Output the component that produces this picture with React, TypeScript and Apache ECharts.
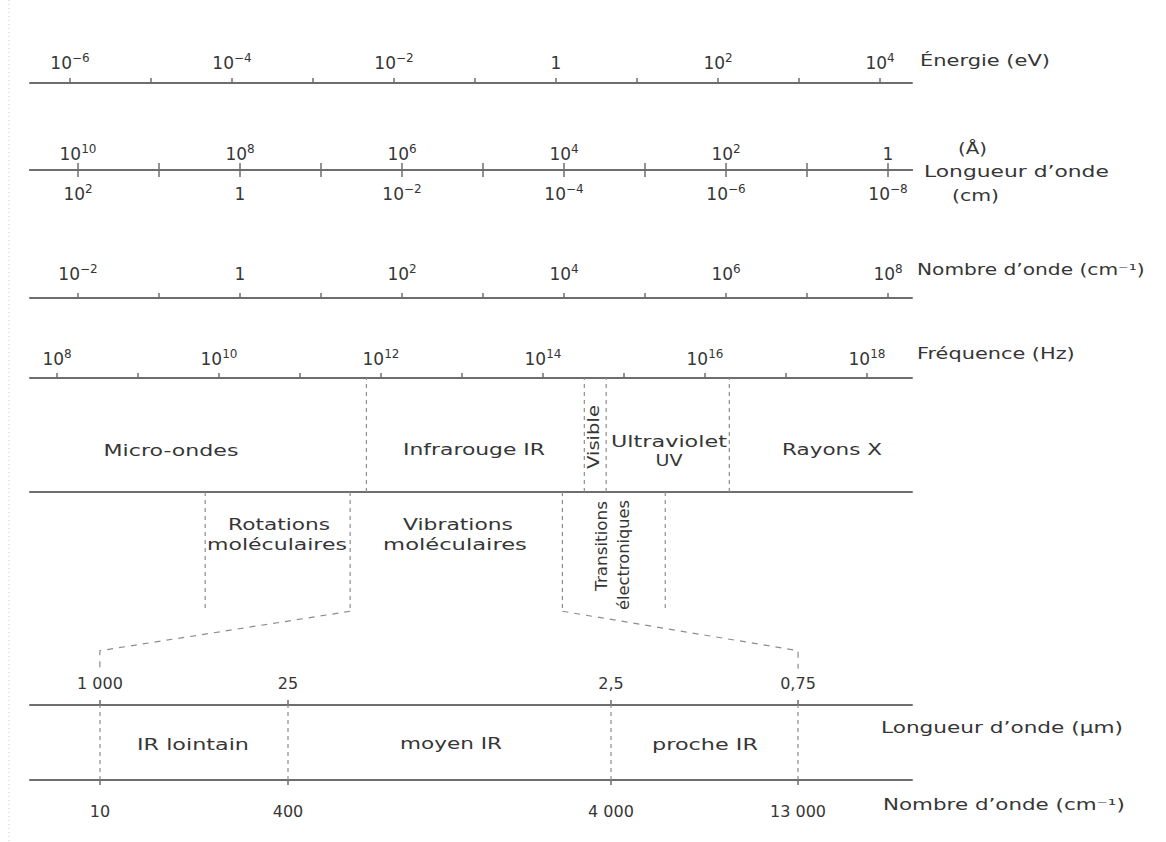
import React, { useEffect, useRef } from 'react';
import * as echarts from 'echarts';

const FONT = 'DejaVu Sans';
const TEXT = '#363636';
const AXIS = '#6e6e6e';
const DASH = '#8c8c8c';

// Log scales: values are decimal exponents (log10)
const energyTicks = [-6, -5, -4, -3, -2, -1, 0, 1, 2, 3, 4]; // eV
const energyLabels = [-6, -4, -2, 0, 2, 4];
const angstromTicks = [10, 9, 8, 7, 6, 5, 4, 3, 2, 1, 0]; // Å
const angstromLabels = [10, 8, 6, 4, 2, 0];
const centimetreTicks = [2, 1, 0, -1, -2, -3, -4, -5, -6, -7, -8]; // cm
const centimetreLabels = [2, 0, -2, -4, -6, -8];
const wavenumberTicks = [-2, -1, 0, 1, 2, 3, 4, 5, 6, 7, 8]; // cm-1
const wavenumberLabels = [-2, 0, 2, 4, 6, 8];
const frequencyTicks = [8, 9, 10, 11, 12, 13, 14, 15, 16, 17, 18]; // Hz
const frequencyLabels = [8, 10, 12, 14, 16, 18];

// Spectral domains (boundaries in log10 Hz)
const domainNames = ['Micro-ondes', 'Infrarouge IR', 'Visible', 'Ultraviolet\nUV', 'Rayons X'];
const domainBounds = [11.82, 14.51, 14.78, 16.3];

// Molecular transitions (boundaries in log10 cm-1)
const transitionNames = ['Rotations\nmoléculaires', 'Vibrations\nmoléculaires', 'Transitions\nélectroniques'];
const transitionBounds = [-0.43, 1.36, 3.98, 5.25];
// where the IR zoom projects onto the wavenumber scale (log10 cm-1)
const zoomProjection = [-1.73, 6.89];

// Infrared zoom (schematic, non-linear scale)
const irBandNames = ['IR lointain', 'moyen IR', 'proche IR'];
const irStops = [0.7, 2.58, 5.81, 7.68];
const irWavelengthLabels = ['1 000', '25', '2,5', '0,75']; // µm
const irWavenumberLabels = ['10', '400', '4 000', '13 000']; // cm-1

const rich = {
  b: { fontSize: 17, fontFamily: FONT, color: TEXT, lineHeight: 20, verticalAlign: 'bottom' },
  s: { fontSize: 12, fontFamily: FONT, color: TEXT, lineHeight: 20, verticalAlign: 'bottom', padding: [0, 0, 7, 0] },
};

const pow10 = (v: number) => {
  const r = Math.round(v);
  if (r === 0) return '{b|1}';
  return `{b|10}{s|${r < 0 ? '\u2212' + -r : r}}`;
};

const grid = (top: number, height: number) => ({
  left: 30,
  right: 254,
  top,
  height,
  containLabel: false,
  outerBoundsMode: 'none',
});

function scaleAxis(o: any) {
  return {
    type: 'value',
    gridIndex: o.grid,
    min: o.min,
    max: o.max,
    inverse: !!o.inverse,
    position: o.position || 'bottom',
    silent: true,
    axisLine: { show: o.line !== false, onZero: false, lineStyle: { color: AXIS, width: 2 } },
    axisTick: o.ticks
      ? { show: true, inside: !!o.tickInside, length: o.tickLength || 5, customValues: o.ticks, lineStyle: { color: AXIS, width: 1.5 } }
      : { show: false },
    axisLabel: o.labels
      ? {
          show: true,
          inside: !!o.labelInside,
          margin: o.margin,
          customValues: o.labels,
          formatter: o.formatter || pow10,
          rich,
          color: TEXT,
          fontFamily: FONT,
          fontSize: o.fontSize || 17,
          lineHeight: o.lineHeight || 20,
        }
      : { show: false },
    splitLine: { show: false },
  };
}

const hiddenY = (grid: number, inverse = false) => ({
  type: 'value',
  gridIndex: grid,
  min: 0,
  max: 1,
  inverse,
  show: false,
});

const dashed = (xIdx: number, yIdx: number, data: number[][], dash = [4, 4]) => ({
  type: 'line',
  xAxisIndex: xIdx,
  yAxisIndex: yIdx,
  data,
  symbol: 'none',
  silent: true,
  lineStyle: { color: DASH, width: 1.2, type: dash },
});

function buildOption() {
  const ctx = document.createElement('canvas').getContext('2d') as CanvasRenderingContext2D;
  const SIZE = 15;
  ctx.font = `${SIZE}px "${FONT}"`;
  const [dLine1, dLine2] = domainNames[3].split('\n');
  const [r1, r2] = transitionNames[0].split('\n');
  const [v1, v2] = transitionNames[1].split('\n');
  const [t1, t2] = transitionNames[2].split('\n');

  const labels: any[] = [
    { t: domainNames[0], x: 171, y: 450, w: 135 },
    { t: domainNames[1], x: 474, y: 450, w: 142 },
    { t: domainNames[2], x: 594, y: 437, w: 64, rot: true },
    { t: dLine1, x: 669, y: 441, w: 116 },
    { t: dLine2, x: 669, y: 461, w: 27 },
    { t: domainNames[4], x: 832, y: 450, w: 100 },
    { t: r1, x: 279, y: 525, w: 102 },
    { t: r2, x: 277, y: 545, w: 140 },
    { t: v1, x: 458, y: 525, w: 110 },
    { t: v2, x: 455, y: 545, w: 144 },
    { t: t1, x: 602, y: 501, w: 90, rot: true, align: 'right' },
    { t: t2, x: 624, y: 500, w: 110, rot: true, align: 'right' },
    { t: irBandNames[0], x: 193, y: 744, w: 112 },
    { t: irBandNames[1], x: 451, y: 744, w: 102 },
    { t: irBandNames[2], x: 705, y: 744, w: 106 },
    { t: 'Énergie (eV)', x: 920, y: 61, w: 130, align: 'left' },
    { t: '(Å)', x: 958, y: 149, w: 29, align: 'left' },
    { t: 'Longueur d\u2019onde', x: 924, y: 172, w: 185, align: 'left' },
    { t: '(cm)', x: 952, y: 196, w: 47, align: 'left' },
    { t: 'Nombre d\u2019onde (cm\u207b\u00b9)', x: 917, y: 270, w: 228, align: 'left' },
    { t: 'Fréquence (Hz)', x: 917, y: 354, w: 158, align: 'left' },
    { t: 'Longueur d\u2019onde (\u00b5m)', x: 881, y: 728, w: 242, align: 'left' },
    { t: 'Nombre d\u2019onde (cm\u207b\u00b9)', x: 883, y: 805, w: 242, align: 'left' },
  ];

  const graphic: any[] = [
    {
      type: 'line',
      shape: { x1: 9, y1: 0, x2: 9, y2: 842 },
      silent: true,
      style: { stroke: '#c3c8de', lineWidth: 1, lineDash: [1, 3] },
    },
    ...labels.map((l) => ({
      type: 'text',
      x: l.x,
      y: l.y,
      rotation: l.rot ? Math.PI / 2 : 0,
      scaleX: l.w / ctx.measureText(l.t).width,
      silent: true,
      style: {
        text: l.t,
        fill: TEXT,
        fontSize: SIZE,
        fontFamily: FONT,
        align: l.align || 'center',
        verticalAlign: 'middle',
      },
    })),
  ];

  const PX = 81; // pixels per decade (layout)
  const W = 882 / PX; // axis span in decades

  return {
    animation: false,
    backgroundColor: '#ffffff',
    grid: [
      grid(20, 63), // energy, line at 83
      grid(120, 50), // wavelength, line at 170
      grid(250, 48), // wavenumber, line at 298
      grid(330, 48), // frequency, line at 378
      grid(378, 114), // domains band
      grid(492, 213), // molecular transitions
      grid(705, 75), // IR zoom
    ],
    xAxis: [
      scaleAxis({ grid: 0, min: -6 - 40 / PX, max: -6 - 40 / PX + W, ticks: energyTicks, tickInside: true, labels: energyLabels, labelInside: true, margin: 12 }),
      scaleAxis({ grid: 1, inverse: true, min: 10 + 48 / PX - W, max: 10 + 48 / PX, ticks: angstromTicks, tickInside: true, tickLength: 7, labels: angstromLabels, labelInside: true, margin: 8 }),
      scaleAxis({ grid: 1, inverse: true, min: 2 + 48 / PX - W, max: 2 + 48 / PX, ticks: centimetreTicks, tickLength: 7, labels: centimetreLabels, margin: 12 }),
      scaleAxis({ grid: 2, min: -2 - 48 / PX, max: -2 - 48 / PX + W, ticks: wavenumberTicks, tickInside: true, labels: wavenumberLabels, labelInside: true, margin: 16 }),
      scaleAxis({ grid: 3, min: 8 - 27 / PX, max: 8 - 27 / PX + W, ticks: frequencyTicks, tickInside: true, labels: frequencyLabels, labelInside: true, margin: 11 }),
      scaleAxis({ grid: 4, min: 8 - 27 / PX, max: 8 - 27 / PX + W }),
      scaleAxis({ grid: 5, min: -2 - 48 / PX, max: -2 - 48 / PX + W, line: false }),
      scaleAxis({
        grid: 6, position: 'top', min: 0, max: 8.82, ticks: irStops, labels: irStops, margin: 10, fontSize: 16, lineHeight: 24,
        formatter: (v: number) => irWavelengthLabels[irStops.indexOf(v)] ?? '',
      }),
      scaleAxis({
        grid: 6, position: 'bottom', min: 0, max: 8.82, ticks: irStops, labels: irStops, margin: 19, fontSize: 16, lineHeight: 24,
        formatter: (v: number) => irWavenumberLabels[irStops.indexOf(v)] ?? '',
      }),
    ],
    yAxis: [
      hiddenY(0), hiddenY(1), hiddenY(2), hiddenY(3), hiddenY(4), hiddenY(5, true), hiddenY(6),
    ],
    series: [
      ...domainBounds.map((b) => dashed(5, 4, [[b, 0], [b, 1]])),
      ...transitionBounds.map((b) => dashed(6, 5, [[b, 0], [b, 0.56]])),
      dashed(6, 5, [[transitionBounds[1], 0.56], [zoomProjection[0], 0.745], [zoomProjection[0], 0.83]], [6, 6]),
      dashed(6, 5, [[transitionBounds[2], 0.56], [zoomProjection[1], 0.745], [zoomProjection[1], 0.83]], [6, 6]),
      ...irStops.map((p) => dashed(7, 6, [[p, 0], [p, 1]])),
    ],
    graphic,
  };
}

export default function App() {
  const ref = useRef<HTMLDivElement>(null);
  useEffect(() => {
    if (!ref.current) return;
    const chart = echarts.init(ref.current, null, { renderer: 'svg' });
    chart.setOption(buildOption() as any);
    return () => chart.dispose();
  }, []);
  return (
    <div
      ref={ref}
      style={{ position: 'fixed', left: 0, top: 0, width: 1166, height: 842, background: '#ffffff' }}
    />
  );
}
